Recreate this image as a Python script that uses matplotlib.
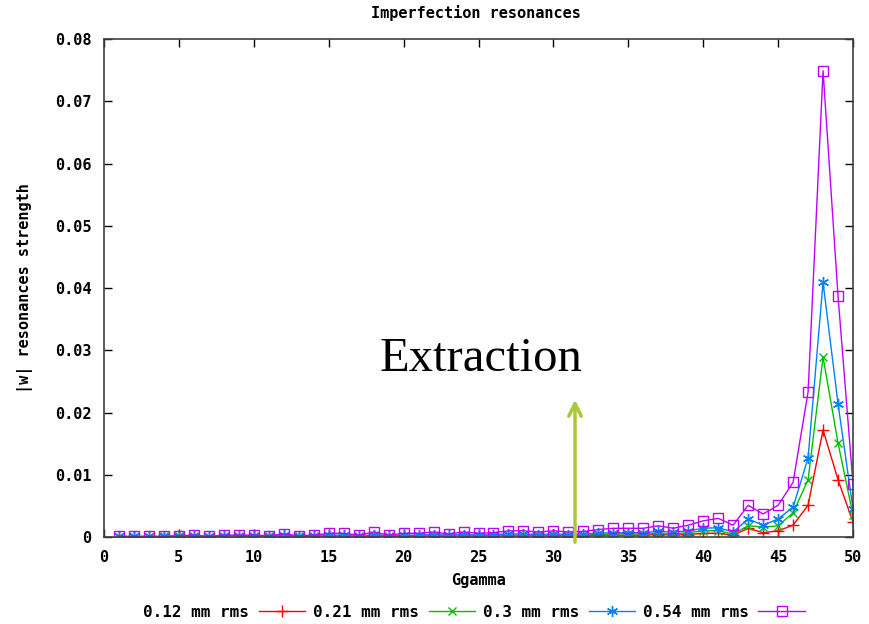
import numpy as np
import matplotlib
matplotlib.use('agg')
import matplotlib.pyplot as plt
from matplotlib.ticker import FuncFormatter

# Ggamma values
ggamma = list(range(1, 51))

# |w| resonance strength, one list per misalignment
red_012 = [0.0, 0.0, 0.0, 0.0, 0.0001, 0.0, 0.0, 0.0001, 0.0001, 0.0001,
           0.0, 0.0001, 0.0, 0.0001, 0.0001, 0.0001, 0.0, 0.0002, 0.0001, 0.0001,
           0.0001, 0.0002, 0.0001, 0.0002, 0.0001, 0.0002, 0.0002, 0.0002, 0.0002, 0.0002,
           0.0002, 0.0002, 0.0003, 0.0003, 0.0003, 0.0003, 0.0004, 0.0003, 0.0004, 0.0006,
           0.0006, 0.0003, 0.0014, 0.0007, 0.0010, 0.0019, 0.0051, 0.0172, 0.0092, 0.0024]
green_021 = [0.0, 0.0, 0.0, 0.0001, 0.0001, 0.0001, 0.0, 0.0001, 0.0001, 0.0001,
             0.0001, 0.0002, 0.0001, 0.0001, 0.0002, 0.0002, 0.0001, 0.0003, 0.0001, 0.0002,
             0.0002, 0.0003, 0.0002, 0.0003, 0.0002, 0.0003, 0.0003, 0.0003, 0.0003, 0.0003,
             0.0003, 0.0003, 0.0004, 0.0005, 0.0005, 0.0005, 0.0006, 0.0005, 0.0007, 0.0010,
             0.0010, 0.0005, 0.0018, 0.0016, 0.0018, 0.0039, 0.0092, 0.0289, 0.0151, 0.0035]
blue_03 = [0.0001, 0.0001, 0.0001, 0.0001, 0.0001, 0.0001, 0.0001, 0.0002, 0.0002, 0.0002,
           0.0001, 0.0003, 0.0001, 0.0002, 0.0003, 0.0003, 0.0001, 0.0004, 0.0002, 0.0003,
           0.0003, 0.0004, 0.0003, 0.0004, 0.0003, 0.0004, 0.0005, 0.0005, 0.0004, 0.0005,
           0.0004, 0.0005, 0.0006, 0.0007, 0.0007, 0.0007, 0.0009, 0.0008, 0.0010, 0.0014,
           0.0015, 0.0008, 0.0029, 0.0019, 0.0029, 0.0048, 0.0127, 0.0409, 0.0214, 0.0045]
mag_054 = [0.0001, 0.0001, 0.0001, 0.0001, 0.0002, 0.0003, 0.0001, 0.0003, 0.0003, 0.0003,
           0.0002, 0.0005, 0.0002, 0.0003, 0.0006, 0.0006, 0.0003, 0.0008, 0.0003, 0.0006,
           0.0006, 0.0008, 0.0005, 0.0008, 0.0006, 0.0007, 0.0010, 0.0010, 0.0008, 0.0010,
           0.0008, 0.0009, 0.0012, 0.0014, 0.0014, 0.0014, 0.0018, 0.0014, 0.0019, 0.0026,
           0.0030, 0.0019, 0.0051, 0.0037, 0.0051, 0.0088, 0.0233, 0.0749, 0.0387, 0.0085]

labels = ['0.12 mm rms', '0.21 mm rms', '0.3 mm rms', '0.54 mm rms']
xticks = list(range(0, 51, 5))
yticks = [0, 0.01, 0.02, 0.03, 0.04, 0.05, 0.06, 0.07, 0.08]

mono = 'DejaVu Sans Mono'
fsz = 11

fig = plt.figure(figsize=(8.69, 6.24), dpi=100)
ax = fig.add_axes([0.1197, 0.1394, 0.8619, 0.7981])

ax.plot(ggamma, red_012, color='#ff0000', lw=1, marker='+', ms=9, mew=1, label=labels[0])
ax.plot(ggamma, green_021, color='#00c000', lw=1, marker='x', ms=6, mew=1, label=labels[1])
ax.plot(ggamma, blue_03, color='#0080ff', lw=1, marker=(6, 2, 0), ms=8, mew=1, label=labels[2])
ax.plot(ggamma, mag_054, color='#c000ff', lw=1, marker='s', ms=7, mew=1, mfc='none', label=labels[3])

ax.set_xlim(0, 50)
ax.set_ylim(0, 0.08)
ax.set_xticks(xticks)
ax.set_yticks(yticks)
ax.yaxis.set_major_formatter(FuncFormatter(lambda v, p: '0' if v == 0 else '%.2f' % v))
ax.tick_params(direction='in', length=6, width=1, top=True, right=True, labelsize=fsz, pad=9)
for lab in ax.get_xticklabels() + ax.get_yticklabels():
    lab.set_fontfamily(mono)
    lab.set_fontweight('bold')
for s in ax.spines.values():
    s.set_color('#404040')
    s.set_linewidth(1.2)

fig.text(476 / 869, 1 - 13 / 624, 'Imperfection resonances', fontfamily=mono, fontweight='bold',
         fontsize=fsz, ha='center', va='center')
ax.set_xlabel('Ggamma', fontfamily=mono, fontweight='bold', fontsize=fsz, va='center')
ax.xaxis.set_label_coords(0.5, (537 - 580) / 498)
ax.set_ylabel('|w| resonances strength', fontfamily=mono, fontweight='bold', fontsize=fsz, va='center')
ax.yaxis.set_label_coords((25 - 104) / 749, 0.5)

leg = ax.legend(loc='center', bbox_to_anchor=(0.494, (537 - 612) / 498), ncol=4, frameon=False,
                markerfirst=False, handlelength=2.9, columnspacing=0.5, handletextpad=0.6,
                prop={'family': mono, 'weight': 'bold', 'size': 11.5})

# annotation
fig.text(380 / 869, 1 - 371 / 624, 'Extraction', fontfamily='Liberation Serif', fontsize=35,
         ha='left', va='baseline')
ax.annotate('', xy=(575, 624 - 397), xycoords='figure pixels',
            xytext=(575, 624 - 545), textcoords='figure pixels',
            arrowprops=dict(arrowstyle='->,head_length=0.9,head_width=0.45', color='#a9c93a', lw=2.5))

fig.savefig('out.png', dpi=100)
